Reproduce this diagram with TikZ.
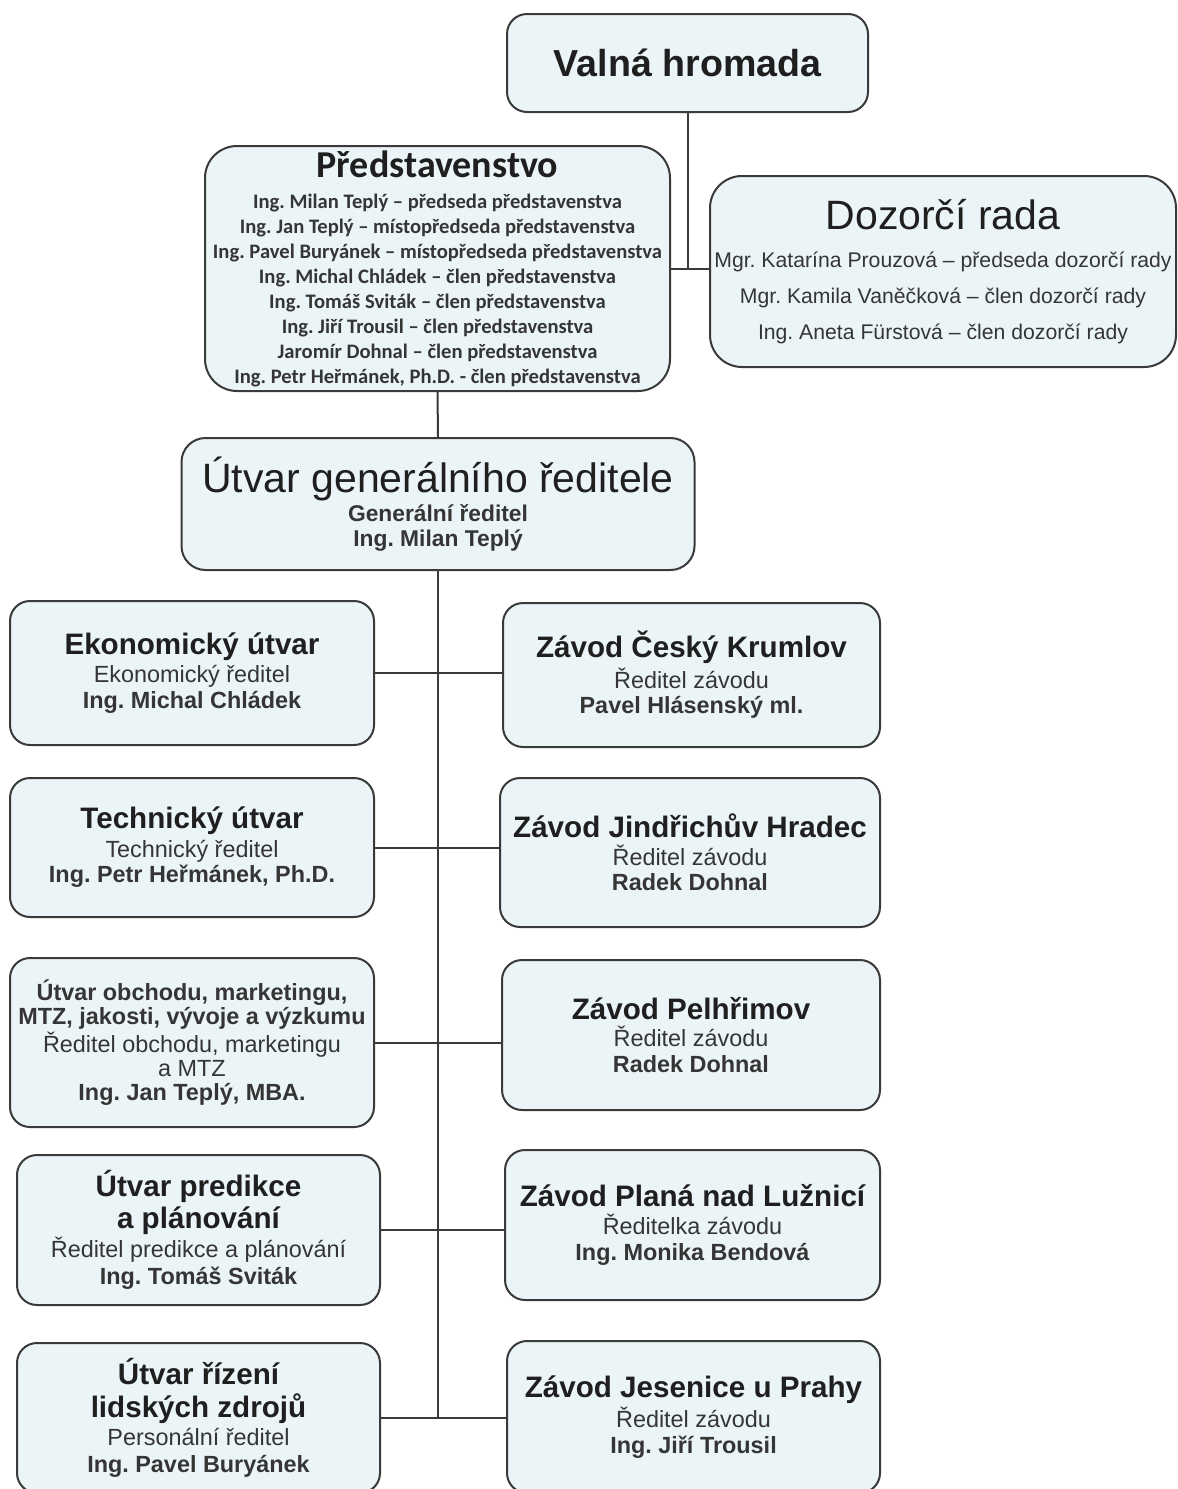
\documentclass[tikz,border=0pt]{standalone}
\usepackage{fontspec}
\setmainfont{Liberation Sans}
\newfontfamily\calfont{Carlito}
\frenchspacing
\definecolor{boxfill}{HTML}{EBF4F7}
\definecolor{boxline}{HTML}{3A3A3A}
\definecolor{subtext}{HTML}{353535}
\tikzstyle{unit}=[draw=boxline,fill=boxfill,line width=1pt,rounded corners=10pt,
                  inner sep=0pt,align=center,text=subtext,
                  font=\fontsize{11.7}{12.8}\selectfont]
\tikzstyle{board}=[unit,rounded corners=16pt]
\tikzstyle{link}=[draw=boxline,line width=1pt]
\newcommand{\utitle}[1]{{\fontsize{14.8}{16}\selectfont\bfseries\color{black!88}#1}}
\newcommand{\uname}[1]{\textbf{#1}}

\begin{document}
\begin{tikzpicture}[x=0.5pt,y=-0.5pt]
  \useasboundingbox[fill=white] (0,0) rectangle (1178,1489);

  % TOP BOARDS
  \node[unit,minimum width=180.5pt,minimum height=49pt,
        font=\fontsize{18.8}{20}\selectfont\bfseries,text=black!88] (valna) at (687.5,63)
    {Valná hromada};
  \node[board,minimum width=232.5pt,minimum height=122.5pt,
        font=\calfont\bfseries\fontsize{10.3}{12.5}\selectfont] (pred) at (437.5,268.5)
    {{\fontsize{19}{20}\selectfont\color{black!88}Představenstvo}\\[3pt]
     Ing. Milan Teplý – předseda představenstva\\
     Ing. Jan Teplý – místopředseda představenstva\\
     Ing. Pavel Buryánek – místopředseda představenstva\\
     Ing. Michal Chládek – člen představenstva\\
     Ing. Tomáš Sviták – člen představenstva\\
     Ing. Jiří Trousil – člen představenstva\\
     Jaromír Dohnal – člen představenstva\\
     Ing. Petr Heřmánek, Ph.D. - člen představenstva};
  \node[board,minimum width=233pt,minimum height=95.5pt,
        font=\fontsize{10.6}{12}\selectfont] (dozor) at (943,271.5)
    {{\fontsize{20.5}{22}\selectfont\color{black!88}Dozorčí rada}\\[7pt]
     Mgr. Katarína Prouzová – předseda dozorčí rady\\[6pt]
     Mgr. Kamila Vaněčková – člen dozorčí rady\\[6pt]
     Ing. Aneta Fürstová – člen dozorčí rady};
  \node[unit,rounded corners=12pt,minimum width=256.5pt,minimum height=66pt,
        font=\fontsize{11.4}{12.5}\selectfont\bfseries] (ugr) at (438,504)
    {{\fontsize{20.5}{22}\selectfont\mdseries\color{black!88}Útvar generálního ředitele}\\[1pt]
     Generální ředitel\\ Ing. Milan Teplý};

  % LEFT COLUMN
  \node[unit,minimum width=182pt,minimum height=72pt] (eko) at (192,673)
    {\utitle{Ekonomický útvar}\\[1.5pt] Ekonomický ředitel\\ \uname{Ing. Michal Chládek}};
  \node[unit,minimum width=182pt,minimum height=69.5pt] (tech) at (192,847.5)
    {\utitle{Technický útvar}\\[1.5pt] Technický ředitel\\ \uname{Ing. Petr Heřmánek, Ph.D.}};
  \node[unit,minimum width=182pt,minimum height=84.5pt,
        font=\fontsize{11.7}{12}\selectfont] (obch) at (192,1042.5)
    {\uname{Útvar obchodu, marketingu,}\\ \uname{MTZ, jakosti, vývoje a výzkumu}\\
     Ředitel obchodu, marketingu\\ a MTZ\\ \uname{Ing. Jan Teplý, MBA.}};
  \node[unit,minimum width=181.5pt,minimum height=75pt] (plan) at (198.5,1230)
    {\utitle{Útvar predikce}\\[1pt] \utitle{a plánování}\\
     Ředitel predikce a plánování\\[1pt] \uname{Ing. Tomáš Sviták}};
  \node[unit,minimum width=181.5pt,minimum height=75pt] (lz) at (198.5,1418)
    {\utitle{Útvar řízení}\\[3.5pt] \utitle{lidských zdrojů}\\[1.5pt]
     Personální ředitel\\[0.5pt] \uname{Ing. Pavel Buryánek}};

  % RIGHT COLUMN
  \node[unit,minimum width=188.5pt,minimum height=72pt] (krum) at (691.5,675)
    {\utitle{Závod Český Krumlov}\\[1pt] Ředitel závodu\\ \uname{Pavel Hlásenský ml.}};
  \node[unit,minimum width=190pt,minimum height=74.5pt] (jh) at (690,852.5)
    {\utitle{Závod Jindřichův Hradec}\\[1pt] Ředitel závodu\\ \uname{Radek Dohnal}};
  \node[unit,minimum width=189pt,minimum height=75pt] (pel) at (691,1035)
    {\utitle{Závod Pelhřimov}\\[1pt] Ředitel závodu\\ \uname{Radek Dohnal}};
  \node[unit,minimum width=187.5pt,minimum height=75pt] (plana) at (692.5,1225)
    {\utitle{Závod Planá nad Lužnicí}\\[1pt] Ředitelka závodu\\ \uname{Ing. Monika Bendová}};
  \node[unit,minimum width=186.5pt,minimum height=76pt] (jes) at (693.5,1417)
    {\utitle{Závod Jesenice u Prahy}\\[1pt] Ředitel závodu\\ \uname{Ing. Jiří Trousil}};

  % CONNECTORS
  \draw[link] (valna.south) -- (valna.south |- pred.east);
  \draw[link] (pred.east) -- (pred.east -| dozor.west);
  \draw[link] (pred.south) -- (ugr.north);
  \draw[link] (ugr.south) -- (ugr.south |- lz.east); % spine
  \foreach \l/\r in {eko/krum,tech/jh,obch/pel,plan/plana,lz/jes}
    \draw[link] (\l.east) -- (\l.east -| \r.west);
\end{tikzpicture}
\end{document}
